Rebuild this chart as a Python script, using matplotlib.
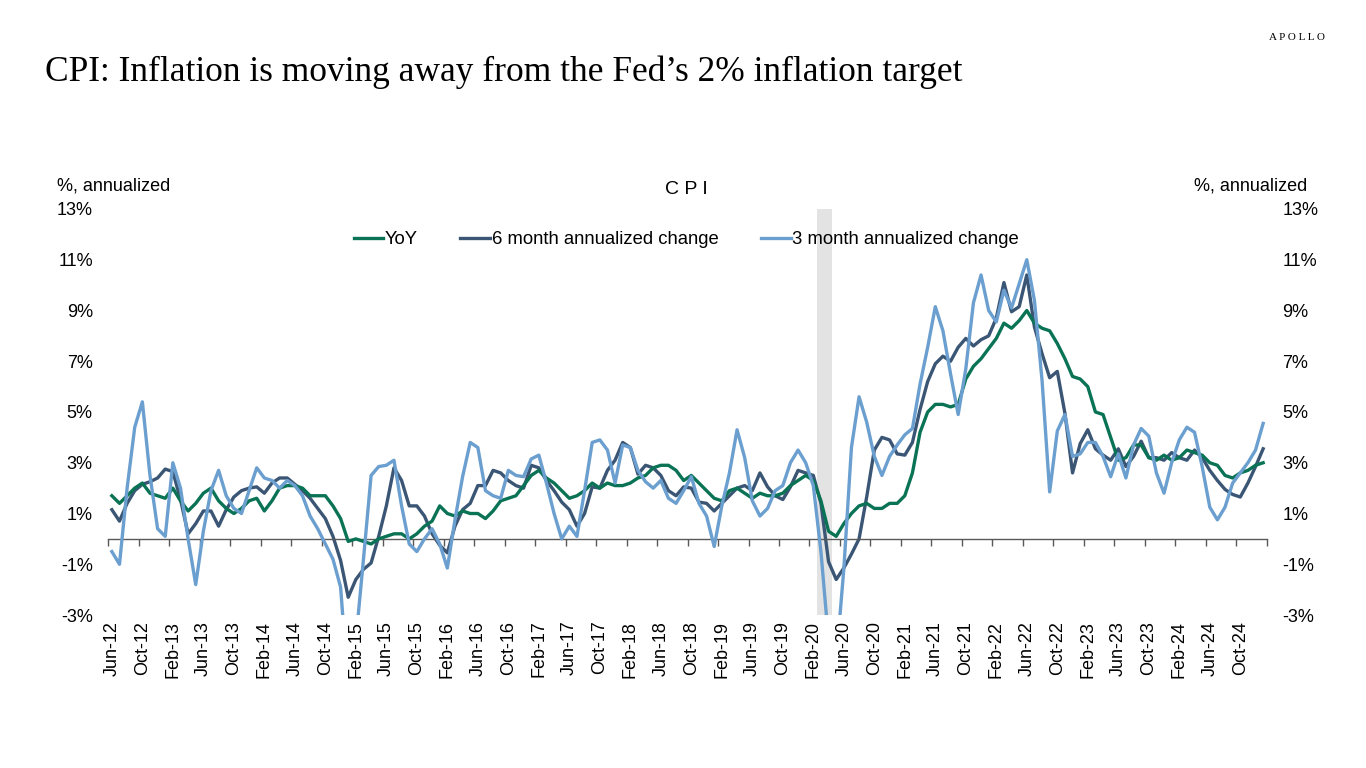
import matplotlib
matplotlib.use("Agg")
import matplotlib.pyplot as plt
import matplotlib.transforms as mtransforms
import numpy as np

plt.rcParams['font.family'] = ['Liberation Sans', 'DejaVu Sans']

# Monthly observations Jun-12 .. Jan-25
tick_labels = ["Jun-12", "Oct-12", "Feb-13", "Jun-13", "Oct-13", "Feb-14", "Jun-14", "Oct-14",
               "Feb-15", "Jun-15", "Oct-15", "Feb-16", "Jun-16", "Oct-16", "Feb-17", "Jun-17",
               "Oct-17", "Feb-18", "Jun-18", "Oct-18", "Feb-19", "Jun-19", "Oct-19", "Feb-20",
               "Jun-20", "Oct-20", "Feb-21", "Jun-21", "Oct-21", "Feb-22", "Jun-22", "Oct-22",
               "Feb-23", "Jun-23", "Oct-23", "Feb-24", "Jun-24", "Oct-24"]

yoy = [1.7, 1.4, 1.7, 2.0, 2.2, 1.8, 1.7,
       1.6, 2.0, 1.5, 1.1, 1.4, 1.8, 2.0, 1.5, 1.2, 1.0, 1.2, 1.5,
       1.6, 1.1, 1.5, 2.0, 2.1, 2.1, 2.0, 1.7, 1.7, 1.7, 1.3, 0.8,
       -0.1, 0.0, -0.1, -0.2, 0.0, 0.1, 0.2, 0.2, 0.0, 0.2, 0.5, 0.7,
       1.3, 1.0, 0.9, 1.1, 1.0, 1.0, 0.8, 1.1, 1.5, 1.6, 1.7, 2.1,
       2.5, 2.7, 2.4, 2.2, 1.9, 1.6, 1.7, 1.9, 2.2, 2.0, 2.2, 2.1,
       2.1, 2.2, 2.4, 2.5, 2.8, 2.9, 2.9, 2.7, 2.3, 2.5, 2.2, 1.9,
       1.6, 1.5, 1.9, 2.0, 1.8, 1.6, 1.8, 1.7, 1.7, 1.8, 2.1, 2.3,
       2.5, 2.3, 1.5, 0.3, 0.1, 0.6, 1.0, 1.3, 1.4, 1.2, 1.2, 1.4,
       1.4, 1.7, 2.6, 4.2, 5.0, 5.3, 5.3, 5.2, 5.3, 6.3, 6.8, 7.1,
       7.5, 7.9, 8.5, 8.3, 8.6, 9.0, 8.5, 8.3, 8.2, 7.7, 7.1, 6.4,
       6.3, 6.0, 5.0, 4.9, 4.0, 3.1, 3.2, 3.7, 3.7, 3.2, 3.1, 3.3,
       3.1, 3.2, 3.5, 3.4, 3.3, 3.0, 2.9, 2.5, 2.4, 2.6, 2.7, 2.9,
       3.0]

six_month = [1.15, 0.7, 1.4, 1.9, 2.15, 2.25, 2.4,
             2.75, 2.65, 1.55, 0.2, 0.6, 1.1, 1.1, 0.5, 1.15, 1.65, 1.9, 2.0,
             2.05, 1.8, 2.2, 2.4, 2.4, 2.15, 1.9, 1.6, 1.2, 0.8, 0.1, -0.85,
             -2.3, -1.6, -1.2, -0.95, 0.1, 1.3, 2.8, 2.3, 1.3, 1.3, 0.9, 0.2,
             -0.25, -0.55, 0.5, 1.15, 1.4, 2.1, 2.1, 2.7, 2.6, 2.3, 2.1, 2.0,
             2.9, 2.8, 2.3, 1.9, 1.45, 1.15, 0.5, 1.0, 2.05, 2.0, 2.7, 3.1,
             3.8, 3.6, 2.55, 2.9, 2.8, 2.5, 1.9, 1.7, 2.05, 2.0, 1.45, 1.4,
             1.1, 1.4, 1.7, 2.0, 2.1, 1.9, 2.6, 2.05, 1.7, 1.55, 2.05, 2.7,
             2.6, 2.5, 1.4, -0.9, -1.6, -1.15, -0.6, 0.0, 1.65, 3.5, 4.0, 3.9,
             3.35, 3.3, 3.8, 5.1, 6.2, 6.9, 7.2, 7.0, 7.55, 7.9, 7.6, 7.85,
             8.0, 8.7, 10.1, 8.95, 9.15, 10.4, 8.35, 7.3, 6.35, 6.6, 4.95, 2.6,
             3.75, 4.3, 3.55, 3.3, 3.1, 3.55, 2.85, 3.25, 3.85, 3.2, 3.2, 3.1,
             3.4, 3.2, 3.1, 3.5, 3.2, 2.7, 2.3, 1.95, 1.75, 1.65, 2.2, 2.85,
             3.55]

three_month = [-0.5, -1.0, 2.0, 4.4, 5.4, 2.5, 0.4,
               0.1, 3.0, 2.0, 0.0, -1.8, 0.3, 1.9, 2.7, 1.7, 1.2, 1.0, 1.9,
               2.8, 2.4, 2.3, 2.0, 2.3, 2.1, 1.7, 0.9, 0.4, -0.2, -0.8, -1.9,
               -5.9, -4.0, -0.8, 2.5, 2.85, 2.9, 3.1, 1.3, -0.2, -0.5, 0.0, 0.4,
               -0.2, -1.15, 0.75, 2.45, 3.8, 3.6, 1.9, 1.7, 1.6, 2.7, 2.5, 2.45,
               3.15, 3.3, 2.2, 1.0, 0.0, 0.5, 0.1, 1.9, 3.8, 3.9, 3.5, 2.2,
               3.7, 3.6, 2.7, 2.25, 2.0, 2.3, 1.6, 1.4, 1.9, 2.45, 1.4, 0.9,
               -0.3, 1.3, 2.6, 4.3, 3.2, 1.5, 0.9, 1.2, 1.9, 2.1, 3.0, 3.5,
               3.0, 2.1, -0.5, -4.0, -4.8, -1.2, 3.6, 5.6, 4.6, 3.25, 2.5, 3.25,
               3.7, 4.1, 4.35, 6.1, 7.55, 9.15, 8.2, 6.5, 4.9, 6.7, 9.3, 10.4,
               9.0, 8.55, 9.8, 9.1, 10.05, 11.0, 9.4, 6.25, 1.85, 4.25, 4.9, 3.25,
               3.35, 3.8, 3.8, 3.25, 2.45, 3.35, 2.4, 3.7, 4.35, 4.05, 2.6, 1.8,
               3.0, 3.9, 4.4, 4.2, 2.85, 1.25, 0.75, 1.25, 2.2, 2.6, 3.0, 3.5,
               4.55]

recession_months = ["Mar-20", "Apr-20"]
recession_idx = [93, 94]

y_ticks = [-3, -1, 1, 3, 5, 7, 9, 11, 13]

n = len(yoy)
x = np.arange(n)

fig = plt.figure(figsize=(13.66, 7.68), dpi=100)
ax = fig.add_axes([0.0791, 0.1992, 0.8484, 0.5287])

# recession shading
ax.axvspan(min(recession_idx) - 0.5, max(recession_idx) + 0.5, color='#e3e3e3', zorder=0, lw=0)

c_yoy = '#0b7355'
c_6m = '#3b5675'
c_3m = '#6b9fcf'
lw = 2.4
ax.plot(x, yoy, color=c_yoy, lw=lw, label='YoY', zorder=3)
ax.plot(x, six_month, color=c_6m, lw=lw, label='6 month annualized change', zorder=2)
ax.plot(x, three_month, color=c_3m, lw=lw, label='3 month annualized change', zorder=4)

ax.set_xlim(-0.5, n - 0.5)
ax.set_ylim(-3, 13)

for s in ['top', 'right', 'left']:
    ax.spines[s].set_visible(False)
ax.spines['bottom'].set_position(('data', 0))
ax.spines['bottom'].set_color('#595959')
ax.spines['bottom'].set_linewidth(1.0)

ax.set_xticks(np.arange(-0.5, n, 4))
ax.tick_params(axis='x', direction='out', length=5, width=1, color='#595959', labelbottom=False)

ax.set_yticks(y_ticks)
ax.set_yticklabels([f"{v}%" for v in y_ticks])
ax.tick_params(axis='y', length=0, labelsize=13, pad=11, labelcolor='#000000',
               labelright=True, right=False)

trans = mtransforms.blended_transform_factory(ax.transData, ax.transAxes)
for i, lab in enumerate(tick_labels):
    ax.text(i * 4, -0.014, lab, transform=trans, rotation=90, ha='center', va='top',
            fontsize=13, color='#000000')

leg = ax.legend(loc='center', bbox_to_anchor=(0.499, 0.924), ncol=3, frameon=False,
                fontsize=13.3, handlelength=1.6, handletextpad=0.1, columnspacing=2.3)

fig.text(57 / 1366, 1 - 186 / 768, "%, annualized", fontsize=13, ha='left', va='center')
fig.text(1307 / 1366, 1 - 186 / 768, "%, annualized", fontsize=13, ha='right', va='center')
fig.text(686 / 1366, 1 - 189 / 768, "C P I", fontsize=14, ha='center', va='center')

fig.text(45 / 1366, 1 - 72 / 768, "CPI: Inflation is moving away from the Fed\u2019s 2% inflation target",
         fontsize=25.5, family=['Liberation Serif', 'DejaVu Serif'], ha='left', va='center')
fig.text(1325 / 1366, 1 - 37 / 768, "A P O L L O", fontsize=8, family=['Liberation Serif', 'DejaVu Serif'],
         ha='right', va='center')

fig.savefig("out.png", dpi=100, facecolor='white')
